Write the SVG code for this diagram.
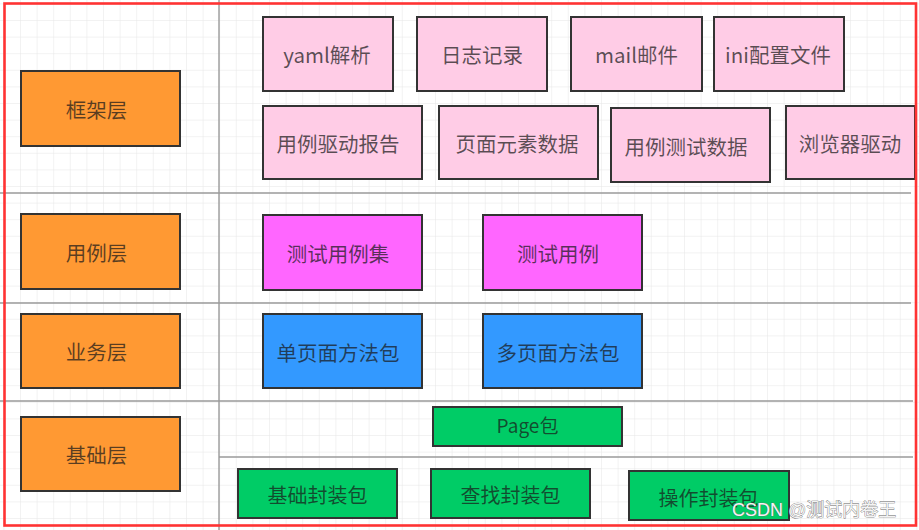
<svg xmlns="http://www.w3.org/2000/svg" width="919" height="530" viewBox="0 0 919 530">
<style>
.box{stroke:#333;stroke-width:2}
.orange{fill:#FF9933}
.pink{fill:#FFCCE6}
.mag{fill:#FF66FF}
.blue{fill:#3399FF}
.green{fill:#00CC66}
.t{font-family:"Noto Sans CJK SC","Noto Sans",sans-serif;font-size:20.5px;fill:#1a1a1a;fill-opacity:0.72;text-anchor:middle;dominant-baseline:central}
.sep{stroke:#9a9a9a;stroke-width:1.4;fill:none}
</style>
<defs>
<pattern id="grid" patternUnits="userSpaceOnUse" x="3.4" y="3.4" width="16.6" height="16.6">
<path d="M0 0H16.6M0 0V16.6" stroke="#e6e6e6" stroke-width="1" fill="none"/>
</pattern>
</defs>
<rect x="0" y="0" width="919" height="530" fill="#fff"/>
<rect x="0" y="0" width="919" height="530" fill="url(#grid)"/>
<g id="separators">
<line class="sep" x1="219" y1="0" x2="219" y2="530"/>
<line class="sep" x1="0" y1="193" x2="911" y2="193"/>
<line class="sep" x1="0" y1="303" x2="911" y2="303"/>
<line class="sep" x1="0" y1="401" x2="913" y2="401"/>
<line class="sep" x1="219" y1="457" x2="913" y2="457"/>
</g>
<g id="connectors"></g>
<g id="layer-framework"><rect class="box orange" x="21" y="71" width="159" height="75"/><text class="t" x="96.5" y="108.5">框架层</text></g>
<g id="layer-case"><rect class="box orange" x="21" y="214" width="159" height="75"/><text class="t" x="96.5" y="251.5">用例层</text></g>
<g id="layer-business"><rect class="box orange" x="21" y="314" width="159" height="74"/><text class="t" x="96.5" y="351">业务层</text></g>
<g id="layer-base"><rect class="box orange" x="21" y="417" width="159" height="74"/><text class="t" x="96.5" y="454">基础层</text></g>

<g id="yaml"><rect class="box pink" x="263" y="17" width="130" height="74"/><text class="t" x="327" y="54">yaml解析</text></g>
<g id="log"><rect class="box pink" x="417" y="17" width="130" height="74"/><text class="t" x="482" y="54">日志记录</text></g>
<g id="mail"><rect class="box pink" x="571" y="17" width="131" height="74"/><text class="t" x="636.5" y="54">mail邮件</text></g>
<g id="ini"><rect class="box pink" x="714" y="17" width="130" height="74"/><text class="t" x="778" y="54">ini配置文件</text></g>
<g id="report"><rect class="box pink" x="263" y="106" width="159" height="73"/><text class="t" x="338" y="142.5">用例驱动报告</text></g>
<g id="page-data"><rect class="box pink" x="439" y="106" width="159" height="73"/><text class="t" x="517" y="142.5">页面元素数据</text></g>
<g id="case-data"><rect class="box pink" x="611" y="108" width="159" height="74"/><text class="t" x="686" y="145.5">用例测试数据</text></g>
<g id="browser"><rect class="box pink" x="786" y="106" width="129" height="73"/><text class="t" x="850" y="142.5">浏览器驱动</text></g>

<g id="suite"><rect class="box mag" x="263" y="215" width="159" height="75"/><text class="t" x="338" y="252.5">测试用例集</text></g>
<g id="case"><rect class="box mag" x="483" y="215" width="159" height="75"/><text class="t" x="558" y="252.5">测试用例</text></g>

<g id="single-page"><rect class="box blue" x="263" y="314" width="159" height="74"/><text class="t" x="338" y="352">单页面方法包</text></g>
<g id="multi-page"><rect class="box blue" x="483" y="314" width="159" height="74"/><text class="t" x="558" y="352">多页面方法包</text></g>

<g id="page-pkg"><rect class="box green" x="433" y="407" width="189" height="39"/><text class="t" x="527.5" y="424" style="font-size:19px">Page包</text></g>
<g id="base-pkg"><rect class="box green" x="238" y="469" width="159" height="49"/><text class="t" x="317.5" y="494" style="font-size:20px">基础封装包</text></g>
<g id="find-pkg"><rect class="box green" x="431" y="469" width="159" height="49"/><text class="t" x="510.5" y="494" style="font-size:20px">查找封装包</text></g>
<g id="op-pkg"><rect class="box green" x="629" y="471" width="160" height="49"/><text class="t" x="708.5" y="497" style="font-size:20px">操作封装包</text></g>

<rect x="4.5" y="3.5" width="911.5" height="522" fill="none" stroke="#ff3333" stroke-width="2.6"/>
<text x="732" y="516" style="font-family:'Liberation Sans','Noto Sans CJK SC',sans-serif;font-size:18px;fill:#f4f4f4;stroke:#6a6a6a;stroke-width:0.7;paint-order:stroke">CSDN @测试内卷王</text>
</svg>
